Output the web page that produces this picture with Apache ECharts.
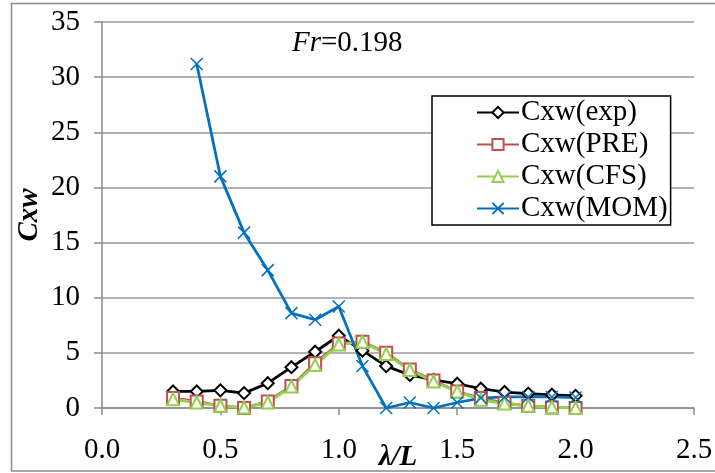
<!DOCTYPE html>
<html>
<head>
<meta charset="utf-8">
<script src="https://cdn.jsdelivr.net/npm/echarts@6/dist/echarts.min.js"></script>
<style>
  html, body { margin: 0; padding: 0; background: #fff; }
  #chart { width: 715px; height: 473px; }
</style>
</head>
<body>
<div id="chart"></div>
<script>
// λ/L positions
const lambdaL = [0.3, 0.4, 0.5, 0.6, 0.7, 0.8, 0.9, 1.0, 1.1, 1.2, 1.3, 1.4, 1.5, 1.6, 1.7, 1.8, 1.9, 2.0];
const lambdaMom = [0.4, 0.5, 0.6, 0.7, 0.8, 0.9, 1.0, 1.1, 1.2, 1.3, 1.4, 1.5, 1.6, 1.7, 1.8, 1.9, 2.0];

const cxwExp = [1.5, 1.5, 1.6, 1.35, 2.25, 3.7, 5.1, 6.55, 5.2, 3.8, 3.0, 2.55, 2.2, 1.75, 1.45, 1.3, 1.2, 1.1];
const cxwPre = [0.9, 0.6, 0.2, 0.0, 0.6, 2.0, 4.05, 5.85, 6.0, 5.0, 3.5, 2.5, 1.5, 0.9, 0.45, 0.2, 0.05, 0.0];
const cxwCfs = [0.8, 0.5, 0.2, 0.05, 0.5, 1.95, 3.9, 5.75, 6.0, 4.9, 3.45, 2.4, 1.5, 0.75, 0.4, 0.2, 0.07, 0.0];
const cxwMom = [31.2, 21.0, 15.9, 12.5, 8.6, 8.0, 9.2, 3.8, 0.0, 0.5, 0.0, 0.5, 0.9, 1.0, 1.0, 1.0, 0.95];

const xTicks = { min: 0, max: 2.5, interval: 0.5 };
const yTicks = { min: 0, max: 35, interval: 5 };

const serif = '"Liberation Serif", "DejaVu Serif", serif';
const pairs = (xs, ys) => xs.map((x, i) => [x, ys[i]]);
const crossPath = 'path://M0,0L10,10M10,0L0,10';

const chart = echarts.init(document.getElementById('chart'));

chart.setOption({
  backgroundColor: '#fff',
  animation: false,
  textStyle: { fontFamily: serif },
  grid: { left: 102, top: 22, right: 21, bottom: 65, outerBoundsMode: 'none', containLabel: false },
  legend: {
    left: 432,
    top: 96,
    orient: 'vertical',
    itemWidth: 42,
    itemHeight: 14,
    itemGap: 3,
    padding: [2, 3, 2, 44],
    borderColor: '#000',
    borderWidth: 1.5,
    backgroundColor: '#fff',
    textStyle: { fontFamily: serif, fontSize: 29, color: '#000', padding: [0, 0, 0, -3] },
    data: ['Cxw(exp)', 'Cxw(PRE)', 'Cxw(CFS)', 'Cxw(MOM)']
  },
  xAxis: {
    type: 'value',
    min: xTicks.min,
    max: xTicks.max,
    interval: xTicks.interval,
    name: 'λ/L',
    nameLocation: 'middle',
    nameGap: 35,
    nameMoveOverlap: false,
    nameTextStyle: { fontFamily: serif, fontSize: 29, fontWeight: 'bold', fontStyle: 'italic', color: '#000' },
    axisLine: { lineStyle: { color: '#8c8c8c', width: 1.5 } },
    axisTick: { show: true, length: 7, lineStyle: { color: '#8c8c8c', width: 1.5 } },
    axisLabel: {
      margin: 28,
      fontFamily: serif,
      fontSize: 29,
      color: '#000',
      formatter: v => v.toFixed(1)
    },
    splitLine: { show: false }
  },
  yAxis: {
    type: 'value',
    min: yTicks.min,
    max: yTicks.max,
    interval: yTicks.interval,
    name: 'Cxw',
    nameLocation: 'middle',
    nameRotate: 90,
    nameGap: 58,
    nameMoveOverlap: false,
    nameTextStyle: { fontFamily: serif, fontSize: 29, fontWeight: 'bold', fontStyle: 'italic', color: '#000' },
    axisLine: { show: true, lineStyle: { color: '#8c8c8c', width: 1.5 } },
    axisTick: { show: true, length: 8, lineStyle: { color: '#8c8c8c', width: 1.5 } },
    axisLabel: { margin: 22, fontFamily: serif, fontSize: 29, color: '#000' },
    splitLine: { show: true, lineStyle: { color: '#9a9a9a', width: 1.5 } }
  },
  graphic: [
    {
      type: 'rect',
      silent: true,
      shape: { x: 11.5, y: 3.5, width: 760, height: 467.5 },
      style: { fill: 'none', stroke: '#8c8c8c', lineWidth: 1.5 }
    },
    {
      type: 'text',
      left: 292,
      top: 29,
      style: {
        text: '{i|Fr}=0.198',
        fontFamily: serif,
        fontSize: 29,
        fill: '#000',
        rich: { i: { fontStyle: 'italic', fontFamily: serif, fontSize: 29 } }
      }
    }
  ],
  series: [
    {
      name: 'Cxw(exp)',
      type: 'line',
      data: pairs(lambdaL, cxwExp),
      symbol: 'emptyDiamond',
      symbolSize: 12,
      lineStyle: { color: '#000', width: 2.75 },
      itemStyle: { color: '#000', borderColor: '#000', borderWidth: 1 }
    },
    {
      name: 'Cxw(PRE)',
      type: 'line',
      data: pairs(lambdaL, cxwPre),
      symbol: 'emptyRect',
      symbolSize: 12,
      lineStyle: { color: '#c0504d', width: 2.75 },
      itemStyle: { color: '#c0504d', borderColor: '#c0504d', borderWidth: 1 }
    },
    {
      name: 'Cxw(CFS)',
      type: 'line',
      data: pairs(lambdaL, cxwCfs),
      symbol: 'emptyTriangle',
      symbolSize: 12,
      lineStyle: { color: '#92d050', width: 3 },
      itemStyle: { color: '#92d050', borderColor: '#92d050', borderWidth: 1 }
    },
    {
      name: 'Cxw(MOM)',
      type: 'line',
      data: pairs(lambdaMom, cxwMom),
      symbol: crossPath,
      symbolSize: 12,
      lineStyle: { color: '#0070c0', width: 2.75 },
      itemStyle: { color: '#0070c0', borderColor: '#0070c0', borderWidth: 1.5 }
    }
  ]
});
</script>
</body>
</html>
